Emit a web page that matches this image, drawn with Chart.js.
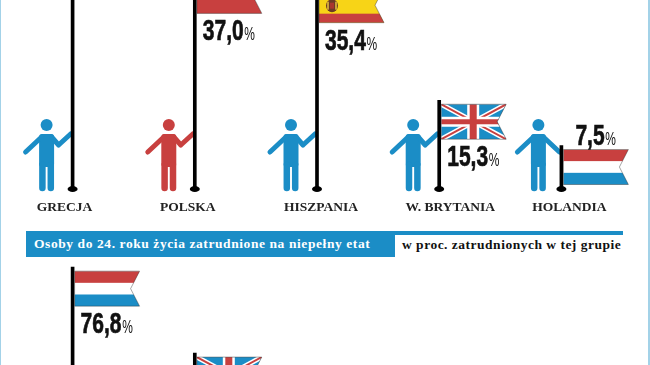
<!DOCTYPE html>
<html lang="pl">
<head>
<meta charset="utf-8">
<title>Osoby do 24. roku życia</title>
<script src="https://cdn.jsdelivr.net/npm/chart.js@4"></script>
<style>
  html, body { margin: 0; padding: 0; background: #fff; }
  body { position: relative; width: 650px; height: 365px; overflow: hidden; }
  canvas { position: absolute; left: 0; }
  #topChart { top: -101px; }
  #bottomChart { top: 260px; }
  .edge { position: absolute; top: 0; bottom: 0; background: #a3d2e8; }
  .edge.l { left: 0; width: 1px; }
  .edge.r { right: 0; width: 2px; }
  .band { position: absolute; font: bold 13.5px "Liberation Serif", serif; white-space: nowrap; }
  #bandFill { left: 26px; top: 231px; width: 369px; height: 26px; line-height: 26px; background: #1b8dc6; color: #fff; text-indent: 8px; letter-spacing: .58px; }
  #bandStrip { left: 395px; top: 231px; width: 228px; height: 4px; background: #1b8dc6; }
  #bandUnit { left: 402px; top: 235px; line-height: 20px; color: #111; letter-spacing: .5px; }
</style>
</head>
<body>
<canvas id="topChart" width="650" height="330"></canvas>
<canvas id="bottomChart" width="650" height="220"></canvas>
<div class="band" id="bandFill">Osoby do 24. roku życia zatrudnione na niepełny etat</div>
<div class="band" id="bandStrip"></div>
<div class="band" id="bandUnit">w proc. zatrudnionych w tej grupie</div>
<div class="edge l"></div>
<div class="edge r"></div>
<script>
// values, the ones above/below the crop are estimates
const topCountries = ['GRECJA', 'POLSKA', 'HISZPANIA', 'W. BRYTANIA', 'HOLANDIA'];
const topValues = [46.0, 37.0, 35.4, 15.3, 7.5];
const bottomCountries = ['HOLANDIA', 'W. BRYTANIA', 'POLSKA', 'HISZPANIA', 'GRECJA'];
const bottomValues = [76.8, 38.4, 32.5, 28.0, 22.0];

const BLUE = '#1b8dc6';
const RED = '#c8403f';
const YELLOW = '#f7d417';
const FLAG_W = 65;
const FLAG_H = 35;

// label centre relative to the pole, per country
const labelShift = { 'GRECJA': -8, 'POLSKA': -7, 'HISZPANIA': 4, 'W. BRYTANIA': 11, 'HOLANDIA': 8 };

function flagPath(ctx, x, y) {
  ctx.beginPath();
  ctx.moveTo(x, y);
  ctx.lineTo(x + FLAG_W, y);
  ctx.lineTo(x + FLAG_W - 9, y + FLAG_H / 2);
  ctx.lineTo(x + FLAG_W, y + FLAG_H);
  ctx.lineTo(x, y + FLAG_H);
  ctx.closePath();
}

function stripes(ctx, x, y, colors) {
  const h = FLAG_H / colors.length;
  colors.forEach((c, i) => {
    ctx.fillStyle = c;
    ctx.fillRect(x, y + i * h, FLAG_W, h + 0.5);
  });
}

function drawUnion(ctx, x, y) {
  const cx = x + 32, cy = y + FLAG_H / 2;
  ctx.fillStyle = BLUE;
  ctx.fillRect(x, y, FLAG_W, FLAG_H);
  ctx.lineCap = 'butt';
  [['#fff', 5], [RED, 2]].forEach(([c, w]) => {
    ctx.strokeStyle = c;
    ctx.lineWidth = w;
    ctx.beginPath();
    ctx.moveTo(x, y);
    ctx.lineTo(x + FLAG_W, y + FLAG_H);
    ctx.moveTo(x + FLAG_W, y);
    ctx.lineTo(x, y + FLAG_H);
    ctx.stroke();
  });
  ctx.fillStyle = '#fff';
  ctx.fillRect(cx - 6, y, 12, FLAG_H);
  ctx.fillRect(x, cy - 5, FLAG_W, 10);
  ctx.fillStyle = RED;
  ctx.fillRect(cx - 3.5, y, 7, FLAG_H);
  ctx.fillRect(x, cy - 2.5, FLAG_W, 5);
}

function drawSpain(ctx, x, y) {
  ctx.fillStyle = YELLOW;
  ctx.fillRect(x, y, FLAG_W, FLAG_H);
  ctx.fillStyle = RED;
  ctx.fillRect(x, y, FLAG_W, 9);
  ctx.fillRect(x, y + 26, FLAG_W, 9);
  // coat of arms, just a small dark mark
  ctx.fillStyle = '#6b3a25';
  ctx.beginPath();
  ctx.ellipse(x + 13, y + 18, 6, 6.5, 0, 0, Math.PI * 2);
  ctx.fill();
  ctx.fillStyle = '#c9a23a';
  ctx.fillRect(x + 8, y + 14, 2, 8);
  ctx.fillRect(x + 16, y + 14, 2, 8);
  ctx.fillStyle = '#a8352e';
  ctx.fillRect(x + 11, y + 15, 4, 6);
}

const flags = {
  'GRECJA': (ctx, x, y) => stripes(ctx, x, y, [BLUE, '#fff', BLUE, '#fff', BLUE]),
  'POLSKA': (ctx, x, y) => stripes(ctx, x, y, ['#fff', RED]),
  'HISZPANIA': drawSpain,
  'W. BRYTANIA': drawUnion,
  'HOLANDIA': (ctx, x, y) => stripes(ctx, x, y, [RED, '#fff', BLUE])
};

function drawFlag(ctx, country, x, y) {
  ctx.save();
  flagPath(ctx, x, y);
  ctx.clip();
  flags[country](ctx, x, y);
  ctx.restore();
  flagPath(ctx, x, y);
  ctx.strokeStyle = 'rgba(40,40,40,.7)';
  ctx.lineWidth = 0.6;
  ctx.stroke();
}

function drawPerson(ctx, px, base, country, short) {
  const c = short ? px - 23 : px - 26;
  const color = country === 'POLSKA' ? RED : BLUE;
  ctx.save();
  ctx.fillStyle = color;
  ctx.strokeStyle = color;
  ctx.lineCap = 'round';
  ctx.lineJoin = 'round';
  ctx.beginPath();
  ctx.arc(c, base - 64, 6, 0, Math.PI * 2);
  ctx.fill();
  ctx.beginPath();
  ctx.roundRect(c - 7.5, base - 55, 15, 33, 3);
  ctx.fill();
  ctx.lineWidth = 6.5;
  ctx.beginPath();
  ctx.moveTo(c - 4.2, base - 24);
  ctx.lineTo(c - 4.2, base - 1);
  ctx.moveTo(c + 4.2, base - 24);
  ctx.lineTo(c + 4.2, base - 1);
  ctx.stroke();
  ctx.lineWidth = 5;
  ctx.beginPath();
  ctx.moveTo(c - 5, base - 52);
  ctx.lineTo(c - 21, base - 37);
  ctx.moveTo(c + 5, base - 52);
  if (short) {
    ctx.lineTo(px - 2, base - 37);
  } else {
    ctx.lineTo(c + 12, base - 44);
    ctx.lineTo(px - 2, base - 55);
  }
  ctx.stroke();
  ctx.restore();
}

function drawValue(ctx, value, x, top) {
  const txt = value.toFixed(1).replace('.', ',');
  ctx.save();
  ctx.fillStyle = '#111';
  ctx.strokeStyle = '#111';
  ctx.lineWidth = 0.7;
  ctx.textAlign = 'left';
  ctx.textBaseline = 'alphabetic';
  ctx.translate(x, top + 21);
  ctx.scale(0.7, 1);
  ctx.font = 'bold 30px "Liberation Sans", sans-serif';
  ctx.fillText(txt, 0, 0);
  ctx.strokeText(txt, 0, 0);
  const w = ctx.measureText(txt).width;
  ctx.font = '19px "Liberation Sans", sans-serif';
  ctx.scale(0.9, 1);
  ctx.fillText('%', (w + 1) / 0.9, 0);
  ctx.restore();
}

const pictogram = {
  id: 'pictogram',
  beforeDatasetsDraw(chart) {
    const ctx = chart.ctx;
    const base = chart.scales.y.getPixelForValue(0);
    chart.data.labels.forEach((country, i) => {
      const bar = chart.getDatasetMeta(0).data[i];
      drawPerson(ctx, bar.x, base, country, chart.data.datasets[0].data[i] < 10);
    });
  },
  afterDatasetsDraw(chart) {
    const ctx = chart.ctx;
    const base = chart.scales.y.getPixelForValue(0);
    chart.data.labels.forEach((country, i) => {
      const bar = chart.getDatasetMeta(0).data[i];
      const value = chart.data.datasets[0].data[i];
      const fx = bar.x + 2;
      const fy = bar.y + 4;
      drawFlag(ctx, country, fx, fy);
      if (value < 10) {
        drawValue(ctx, value, bar.x + 14, fy - 26);
      } else {
        drawValue(ctx, value, bar.x + 8, fy + FLAG_H + 6);
      }
      ctx.fillStyle = '#000';
      ctx.beginPath();
      ctx.ellipse(bar.x, base, 5, 3, 0, 0, Math.PI * 2);
      ctx.fill();
      ctx.fillStyle = '#222';
      ctx.font = 'bold 13.5px "Liberation Serif", serif';
      ctx.textAlign = 'center';
      ctx.textBaseline = 'middle';
      ctx.fillText(country, bar.x + labelShift[country], base + 19);
    });
  }
};

function makeChart(id, labels, values, max, bottomPad) {
  return new Chart(document.getElementById(id).getContext('2d'), {
    type: 'bar',
    data: {
      labels: labels,
      datasets: [{
        data: values,
        backgroundColor: '#000',
        barThickness: 3,
        borderWidth: 0,
      }],
    },
    options: {
      responsive: false,
      animation: false,
      layout: { padding: { left: 11.5, right: 27.5, top: 0, bottom: bottomPad } },
      plugins: {
        legend: { display: false },
        tooltip: { enabled: false },
      },
      scales: {
        x: { display: false },
        y: { display: false, min: 0, max: max },
      },
    },
    plugins: [pictogram],
  });
}

// y scales picked so the pole height per percent matches the picture
makeChart('topChart', topCountries, topValues, 50, 40);
makeChart('bottomChart', bottomCountries, bottomValues, 80, 41);
</script>
</body>
</html>
